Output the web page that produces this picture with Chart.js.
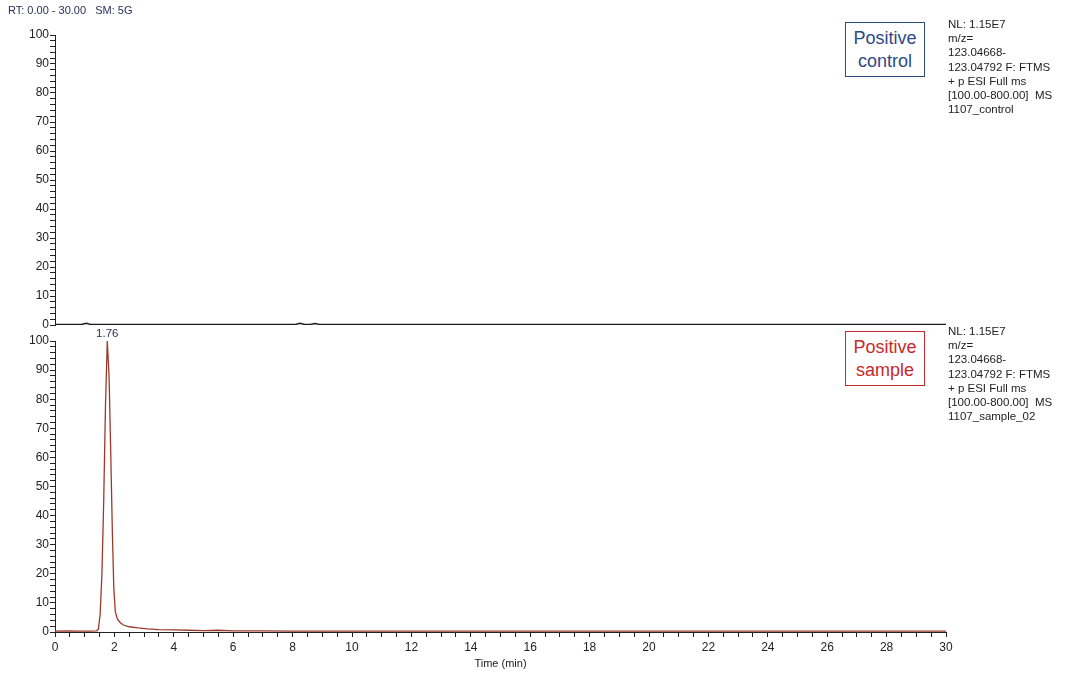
<!DOCTYPE html>
<html>
<head>
<meta charset="utf-8">
<script src="https://cdn.jsdelivr.net/npm/chart.js@4.4.1/dist/chart.umd.min.js"></script>
<style>
  body { margin: 0; background: #fff; font-family: "Liberation Sans", Arial, sans-serif; }
  #wrap { position: relative; width: 1066px; height: 675px; overflow: hidden; }
  canvas { position: absolute; left: 0; }
  .hdr { position: absolute; left: 8px; top: 4px; font-size: 11px; color: #26305a; white-space: pre; }
  .info { position: absolute; left: 948px; font-size: 11.5px; line-height: 14.2px; color: #222; }
  .tag { position: absolute; left: 845px; width: 80px; height: 55px; font-size: 18px; line-height: 23px;
         text-align: center; box-sizing: border-box; padding-top: 4px; background: #fff; }
</style>
</head>
<body>
<div id="wrap">
  <canvas id="top" width="1066" height="335" style="top:0"></canvas>
  <canvas id="bottom" width="1066" height="355" style="top:320px"></canvas>
  <div class="hdr">RT: 0.00 - 30.00   SM: 5G</div>
  <div class="info" style="top:17px">NL: 1.15E7<br>m/z=<br>123.04668-<br>123.04792 F: FTMS<br>+ p ESI Full ms<br>[100.00-800.00]&nbsp; MS<br>1107_control</div>
  <div class="info" style="top:324px">NL: 1.15E7<br>m/z=<br>123.04668-<br>123.04792 F: FTMS<br>+ p ESI Full ms<br>[100.00-800.00]&nbsp; MS<br>1107_sample_02</div>
  <div class="tag" style="top:22px; border:1px solid #2c4a86; color:#2c4a86">Positive<br>control</div>
  <div class="tag" style="top:331px; border:1px solid #c62a2a; color:#c62a2a">Positive<br>sample</div>
</div>
<script>
// retention time range and tick labels
var timeMin = 0, timeMax = 30;
var yTickLabels = [0, 10, 20, 30, 40, 50, 60, 70, 80, 90, 100];
var xTickLabels = [0, 2, 4, 6, 8, 10, 12, 14, 16, 18, 20, 22, 24, 26, 28, 30];

// control trace (flat, small blips)
var controlTime = [0, 0.9, 1.05, 1.2, 8.1, 8.25, 8.4, 8.6, 8.75, 8.9, 15, 30];
var controlIntensity = [0.2, 0.2, 0.6, 0.2, 0.2, 0.6, 0.2, 0.2, 0.5, 0.2, 0.2, 0.2];

// sample trace (peak at 1.76 min)
var sampleTime = [0, 0.4, 0.8, 1.2, 1.4, 1.46, 1.52, 1.58, 1.64, 1.70, 1.76, 1.82, 1.88, 1.93, 1.98,
                  2.03, 2.1, 2.2, 2.3, 2.5, 2.8, 3.1, 3.5, 4.0, 4.5, 5.0, 5.5, 6.0, 7.0, 8.0, 10, 15, 20, 25, 30];
var sampleIntensity = [0.3, 0.4, 0.3, 0.3, 0.4, 1, 6, 20, 45, 78, 100, 88, 60, 35, 15,
                       7, 4.5, 3.2, 2.4, 1.8, 1.4, 1.1, 0.8, 0.7, 0.6, 0.5, 0.6, 0.4, 0.4, 0.3, 0.3, 0.3, 0.3, 0.3, 0.3];
var peakLabel = '1.76';

function pts(t, v) { return t.map(function (x, i) { return { x: x, y: v[i] }; }); }

var tickFont = { family: '"Liberation Sans", Arial, sans-serif', size: 12 };
var inkColor = '#222';

function yAxis() {
  return {
    min: 0, max: 100,
    border: { display: true, color: inkColor, width: 1 },
    grid: { display: true, drawOnChartArea: false, drawTicks: true, tickLength: 5, color: inkColor },
    ticks: {
      stepSize: 2, autoSkip: false, padding: 1, color: inkColor, font: tickFont,
      callback: function (v) { return yTickLabels.indexOf(v) >= 0 ? String(v) : ''; }
    },
    afterFit: function (s) { s.width = 55; }
  };
}

var peakLabelPlugin = {
  id: 'peakLabel',
  afterDatasetsDraw: function (chart) {
    var meta = chart.getDatasetMeta(0);
    var ds = chart.data.datasets[0].data;
    var best = 0;
    for (var i = 1; i < ds.length; i++) if (ds[i].y > ds[best].y) best = i;
    var p = meta.data[best];
    var ctx = chart.ctx;
    ctx.save();
    ctx.font = '11.5px "Liberation Sans", Arial, sans-serif';
    ctx.fillStyle = '#26305a';
    ctx.textAlign = 'center';
    ctx.textBaseline = 'bottom';
    ctx.fillText(peakLabel, p.x, p.y - 1);
    ctx.restore();
  }
};

new Chart(document.getElementById('top'), {
  type: 'line',
  data: { datasets: [{ data: pts(controlTime, controlIntensity), borderColor: '#1a1a1a', borderWidth: 1.5,
                       pointRadius: 0, tension: 0 }] },
  options: {
    responsive: false, animation: false,
    layout: { padding: { left: 0, top: 35, right: 120, bottom: 10 } },
    plugins: { legend: { display: false }, tooltip: { enabled: false } },
    scales: {
      x: { type: 'linear', min: timeMin, max: timeMax, display: false },
      y: yAxis()
    }
  }
});

new Chart(document.getElementById('bottom'), {
  type: 'line',
  data: { datasets: [{ data: pts(sampleTime, sampleIntensity), borderColor: '#9b3a2c', borderWidth: 1.3,
                       pointRadius: 0, tension: 0 }] },
  options: {
    responsive: false, animation: false,
    layout: { padding: { left: 0, top: 21, right: 120, bottom: 0 } },
    plugins: { legend: { display: false }, tooltip: { enabled: false } },
    scales: {
      x: {
        type: 'linear', min: timeMin, max: timeMax,
        border: { display: true, color: inkColor, width: 1 },
        grid: { display: true, drawOnChartArea: false, drawTicks: true, tickLength: 5, color: inkColor },
        ticks: {
          stepSize: 0.5, autoSkip: false, maxRotation: 0, padding: 3, color: inkColor, font: tickFont,
          callback: function (v) { return xTickLabels.indexOf(v) >= 0 ? String(v) : ''; }
        },
        title: { display: true, text: 'Time (min)', color: inkColor, font: { family: tickFont.family, size: 11 },
                 padding: { top: 0, bottom: 4 } },
        afterFit: function (s) { s.height = 43; }
      },
      y: yAxis()
    }
  },
  plugins: [peakLabelPlugin]
});
</script>
</body>
</html>
